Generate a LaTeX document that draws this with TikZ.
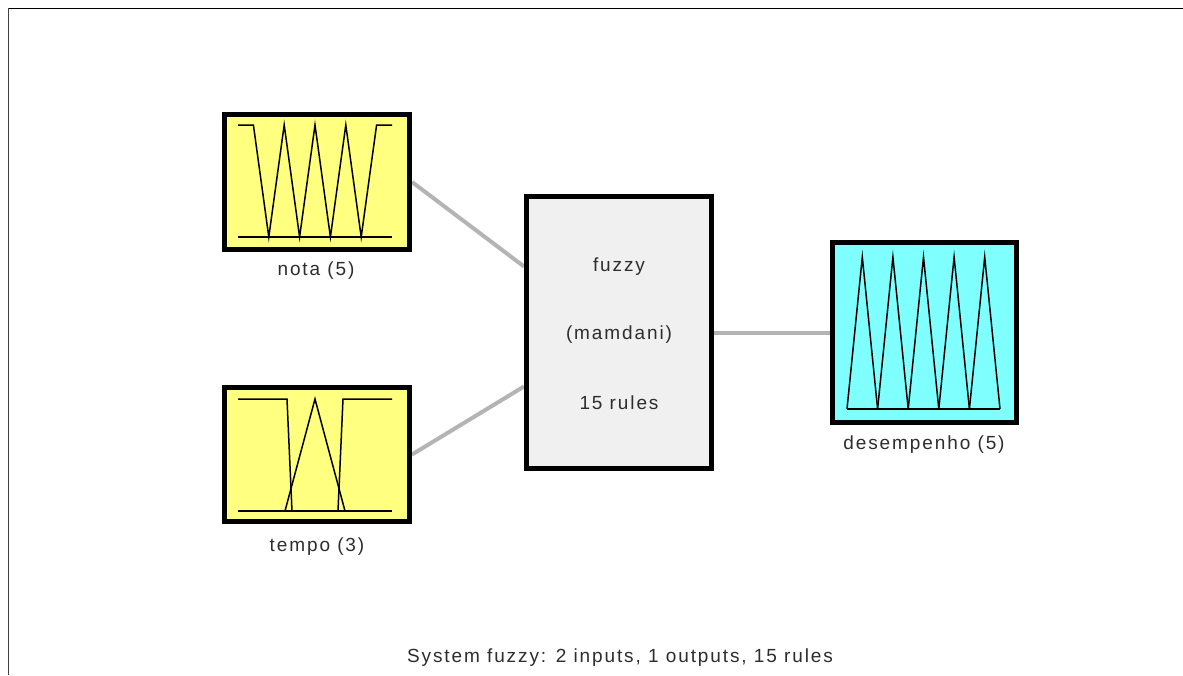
\documentclass[tikz,border=0pt]{standalone}
\usepackage{fontspec}
\setmainfont{Liberation Sans}[LetterSpace=10]
\usetikzlibrary{positioning}
\pgfdeclarelayer{bg}
\pgfsetlayers{bg,main}
\definecolor{inyellow}{RGB}{255,255,128}
\definecolor{outcyan}{RGB}{128,255,255}
\definecolor{sysgray}{RGB}{240,240,240}
\definecolor{linkgray}{RGB}{180,180,180}
\definecolor{txtgray}{RGB}{45,45,45}
\tikzset{
  varbox/.style={draw=black, line width=5pt, minimum width=185pt, inner sep=0pt},
  sysbox/.style={draw=black, line width=5pt, fill=sysgray, minimum width=185pt, minimum height=272pt, inner sep=0pt},
  lbl/.style={text=txtgray, font=\fontsize{19}{21}\selectfont, inner sep=0pt},
  link/.style={draw=linkgray, line width=4pt},
  mf/.style={draw=black, line width=1.5pt, line join=miter},
  base/.style={draw=black, line width=1.2pt},
}
\begin{document}
\begin{tikzpicture}[x=1pt,y=-1pt]
\useasboundingbox (0,0) rectangle (1183,675);
\begin{pgfonlayer}{bg}
\fill[white] (0,0) rectangle (1183,675);
\end{pgfonlayer}
% page frame
\draw[black, line width=1.6pt] (8,8.5) -- (1183,8.5);
\draw[black!75, line width=1.6pt] (8.5,8) -- (8.5,675);

% boxes
\node[varbox, fill=inyellow, minimum height=135pt] (nota) at (317,182) {};
\node[varbox, fill=inyellow, minimum height=134pt] (tempo) at (317,454.5) {};
\node[varbox, fill=outcyan, minimum width=184pt, minimum height=180pt] (des) at (924.5,332.5) {};
\node[sysbox] (sys) at (619,332.5) {};

% connectors
\begin{pgfonlayer}{bg}
\draw[link] (nota.east) -- ([yshift=66pt]sys.west);
\draw[link] (tempo.east) -- ([yshift=-54pt]sys.west);
\draw[link] (sys.east) -- (des.west);
\end{pgfonlayer}

% nota membership functions
\draw[mf] (238,125) -- (253.4,125) -- (268.8,237) -- (284.2,125) -- (299.6,237) -- (315,125)
  -- (330.4,237) -- (345.8,125) -- (361.2,237) -- (376.6,125) -- (392,125);
\draw[base] (238,237) -- (392,237);

% tempo membership functions
\draw[mf] (238,399) -- (287,399) -- (292,511);
\draw[mf] (285,511) -- (315,399) -- (345,511);
\draw[mf] (338,511) -- (343,399) -- (392,399);
\draw[base] (238,511) -- (392,511);

% desempenho membership functions
\foreach \k in {0,...,4} {
  \draw[mf] ({847+30.6*\k},409) -- ({862.3+30.6*\k},257) -- ({877.6+30.6*\k},409);
}
\draw[base] (847,409) -- (1000,409);

% labels
\node[lbl] (notal) at (316,271) {nota (5)};
\node[lbl] (tempol) at (317,547) {tempo (3)};
\node[lbl] (desl) at (924,445) {desempenho (5)};
\node[lbl] (s1) at (619,267) {fuzzy};
\node[lbl] (s2) at (619,335) {(mamdani)};
\node[lbl] (s3) at (619,403) {15 rules};
\node[lbl] (title) at (620,658) {System fuzzy: 2 inputs, 1 outputs, 15 rules};
\end{tikzpicture}
\end{document}
